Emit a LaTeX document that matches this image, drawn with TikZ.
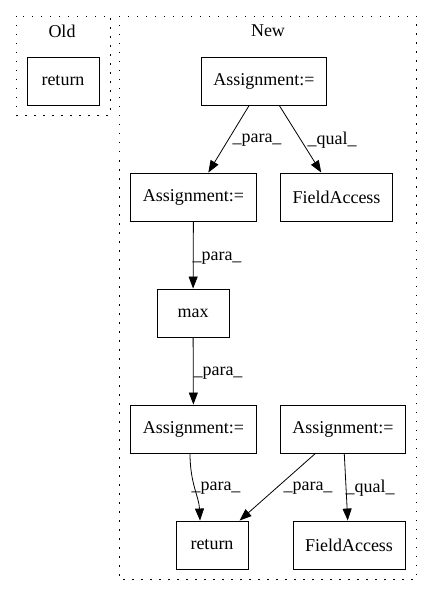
\documentclass[tikz,border=0pt]{standalone}
\usepackage{fontspec}
\setmainfont{Liberation Serif}
\usetikzlibrary{arrows.meta}

\begin{document}
\begin{tikzpicture}[x=1pt,y=-1pt,
        font=\fontsize{18}{20}\selectfont,
        box/.style={draw,line width=0.9pt,minimum height=48pt,minimum width=72pt,inner xsep=12pt},
        edge/.style={line width=0.8pt,-{Triangle[length=12pt,width=9pt]}},
        lbl/.style={inner sep=0},
        cluster/.style={line width=0.9pt,dash pattern=on 1.5pt off 7.5pt}]
        \useasboundingbox (0,0) rectangle (432,596);

        % Clusters
        \draw[cluster] (16,16) rectangle (110,115);
        \draw[cluster] (119,16) rectangle (416,579);
        \node (oldlbl) at (62,31) {Old};
        \node (newlbl) at (268,31) {New};

        % Vertices
        \node[box] (ret0) at (63,81) {return};
        \node[box] (a1) at (264,81) {Assignment:=};
        \node[box] (a2) at (193.5,197) {Assignment:=};
        \node[box] (fa1) at (336.5,197) {FieldAccess};
        \node[box] (mx) at (193,313) {max};
        \node[box] (a3) at (193.5,429) {Assignment:=};
        \node[box] (a4) at (343,429) {Assignment:=};
        \node[box] (ret) at (212,545) {return};
        \node[box] (fa2) at (349,545) {FieldAccess};

        % Edges
        \foreach \u/\v in {a1/a2, a1/fa1, a2/mx, mx/a3, a4/ret, a4/fa2} {
            \draw[edge] (\u) -- (\v);
        }
        \draw[edge] ([xshift=-3.5pt]a3.south) .. controls +(0,30) and +(-1,-24) .. ([xshift=-12pt]ret.north);

        % Edge labels
        \foreach \p/\t in {{(257,140)}/\_para\_, {(332,140)}/\_qual\_, {(217,258)}/\_para\_, {(218,373)}/\_para\_, {(216,488)}/\_para\_, {(308,488)}/\_para\_, {(370,488)}/\_qual\_} {
            \node[lbl] at \p {\t};
        }
    \end{tikzpicture}
\end{document}
